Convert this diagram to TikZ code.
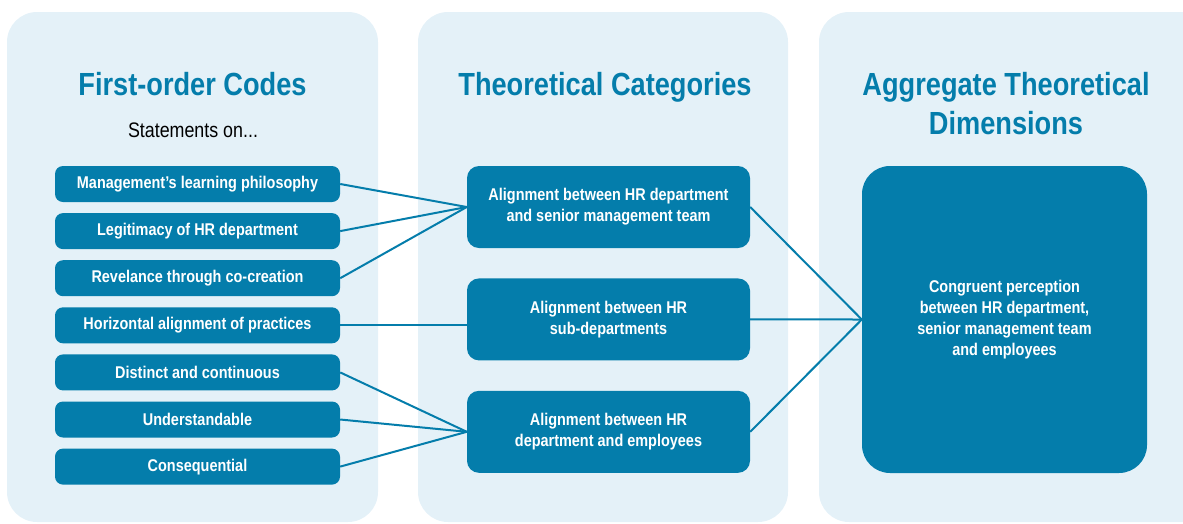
\documentclass[tikz,border=0pt]{standalone}
\usepackage{fontspec}
\setmainfont{Liberation Sans}[FakeStretch=0.85]
\usetikzlibrary{positioning}
\definecolor{hrblue}{RGB}{4,125,171}
\definecolor{panelblue}{RGB}{228,241,248}
\tikzset{
    panel/.style={
           fill=panelblue,
           rounded corners=30pt,
           },
}
\tikzset{
    heading/.style={
           text=hrblue,
           font=\fontsize{32}{39}\selectfont\bfseries,
           align=center,
           inner sep=0pt,
           },
}
\tikzset{
    code/.style={
           rectangle, rounded corners=8pt,
           fill=hrblue, text=white,
           font=\fontsize{17}{21}\selectfont\bfseries,
           minimum width=285pt, minimum height=36pt,
           inner sep=0pt,
           },
}
\tikzset{
    category/.style={
           code,
           rounded corners=12pt,
           align=center,
           minimum width=283pt, minimum height=82pt,
           },
}
\tikzset{
    dimension/.style={
           code,
           rounded corners=28pt,
           align=center,
           minimum width=285pt, minimum height=307pt,
           },
}
\tikzset{
    link/.style={
           draw=hrblue, line width=2pt,
           },
}

\begin{document}
\begin{tikzpicture}[x=1pt,y=-1pt]
\useasboundingbox (0,0) rectangle (1183,523);
\fill[panel] (7,12) rectangle (378,522);
\fill[panel] (418,12) rectangle (788,522);
\fill[panel] (819,12) rectangle (1215,522);

\node[heading,anchor=base](codestitle) at (192.5,95){First-order Codes};
\node[anchor=base,inner sep=0pt,font=\fontsize{21}{25}\selectfont](statements) at (193,137){Statements on...};
\node[heading,anchor=base](cattitle) at (605,95){Theoretical Categories};
\node[heading](dimtitle) at (1006,104){Aggregate Theoretical\\Dimensions};

\node[code](code1) at (197.5,184){Management’s learning philosophy};
\node[code,below=10.7pt of code1](code2){Legitimacy of HR department};
\node[code,below=10.7pt of code2](code3){Revelance through co-creation};
\node[code,below=10.7pt of code3](code4){Horizontal alignment of practices};
\node[code,below=10.7pt of code4](code5){Distinct and continuous};
\node[code,below=10.7pt of code5](code6){Understandable};
\node[code,below=10.7pt of code6](code7){Consequential};

\node[category](cat1) at (608.5,207){Alignment between HR department\\and senior management team};
\node[category,below=30pt of cat1](cat2){Alignment between HR\\sub-departments};
\node[category,below=30pt of cat2](cat3){Alignment between HR\\department and employees};

\node[dimension](dim) at (1004.5,319.5){Congruent perception\\between HR department,\\senior management team\\and employees};

\draw[link] (code1.east) -- (cat1.west);
\draw[link] (code2.east) -- (cat1.west);
\draw[link] (code3.east) -- (cat1.west);
\draw[link] (code4.east) -- (code4.east -| cat2.west);
\draw[link] (code5.east) -- (cat3.west);
\draw[link] (code6.east) -- (cat3.west);
\draw[link] (code7.east) -- (cat3.west);
\draw[link] (cat1.east) -- (dim.west);
\draw[link] (cat2.east) -- (dim.west);
\draw[link] (cat3.east) -- (dim.west);
\end{tikzpicture}
\end{document}
